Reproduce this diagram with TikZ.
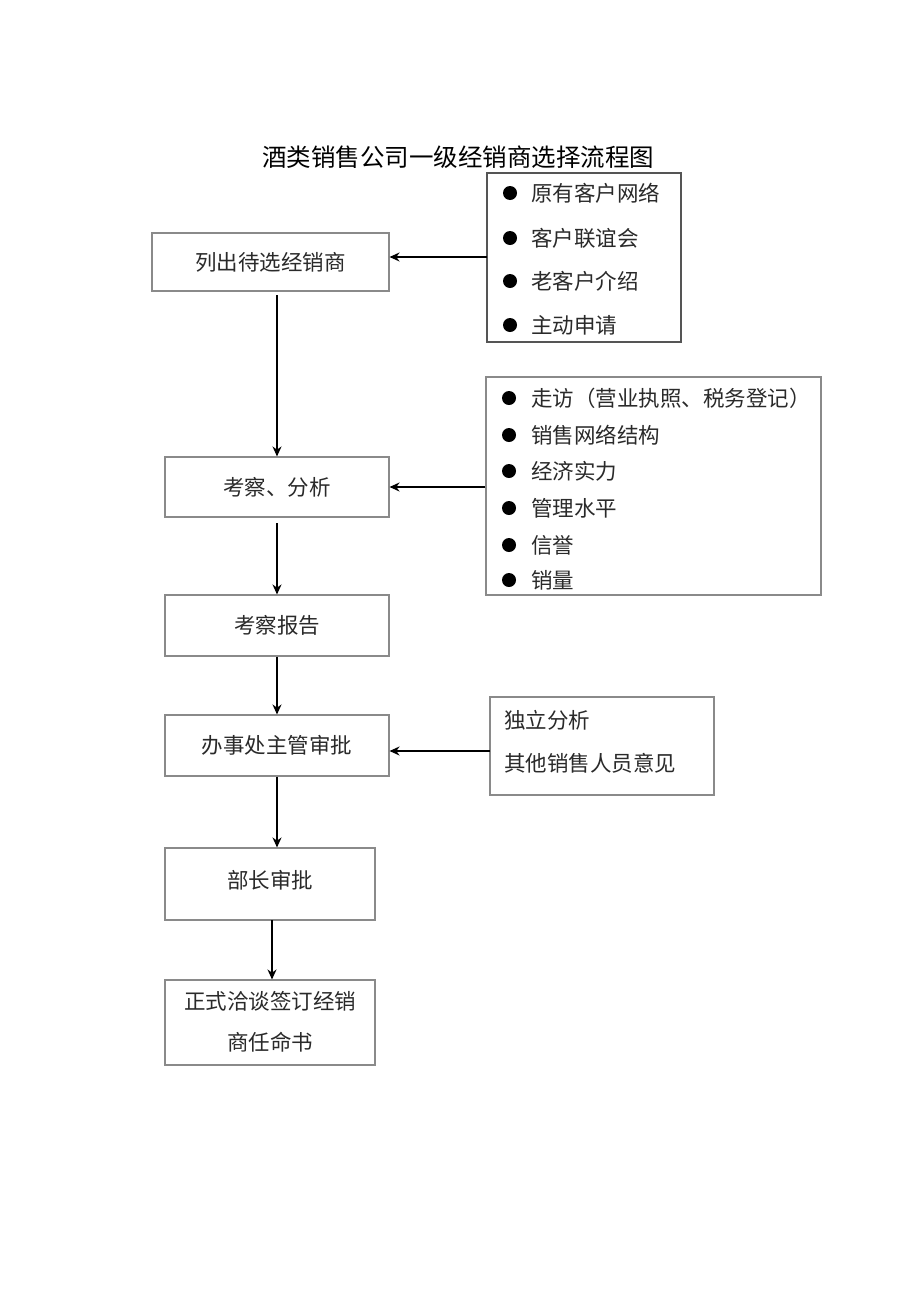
\documentclass[tikz,border=0pt]{standalone}
\usepackage{fontspec}
\newfontfamily\cjk{Noto Sans CJK SC}
\usetikzlibrary{arrows.meta}
\definecolor{txt}{HTML}{2A2A2A}
\definecolor{bord}{HTML}{8A8A8A}
\definecolor{lbord}{HTML}{555555}
\tikzset{
  box/.style={draw=bord, line width=1.1pt, inner sep=0pt, text=txt, font=\cjk\fontsize{21.5}{26}\selectfont, align=center},
  plain/.style={inner sep=0pt, text=txt, font=\cjk\fontsize{21.5}{26}\selectfont},
  lbox/.style={draw=lbord, line width=1.4pt, inner sep=0pt},
  item/.style={anchor=west, inner sep=0pt, text=txt, font=\cjk\fontsize{21.5}{24}\selectfont},
  dot/.style={circle, fill=black, inner sep=0pt, minimum size=14pt},
  arr/.style={line width=1.6pt, -{Stealth[length=10pt,width=9pt]}}
}
\begin{document}
\begin{tikzpicture}[x=1pt,y=-1pt]
\useasboundingbox[fill=white] (0,0) rectangle (920,1301);
\node[font=\cjk\fontsize{24.5}{28}\selectfont] (title) at (458,157) {酒类销售公司一级经销商选择流程图};

% main boxes
\node[box, minimum width=237pt, minimum height=58pt] (b1) at (270.5,262) {列出待选经销商};
\node[box, minimum width=224pt, minimum height=60pt] (b2) at (277,487) {考察、分析};
\node[box, minimum width=224pt, minimum height=61pt] (b3) at (277,625.5) {考察报告};
\node[box, minimum width=224pt, minimum height=61pt] (b4) at (277,745.5) {办事处主管审批};
\node[box, minimum width=210pt, minimum height=72pt] (b5) at (270,884) {};
\node[plain] (b5t) at (270,880) {部长审批};
\node[box, minimum width=210pt, minimum height=85pt] (b6) at (270,1022.5) {};
\node[plain] (b6a) at (270,1001) {正式洽谈签订经销};
\node[plain] (b6b) at (270,1042) {商任命书};

% list box 1
\node[lbox, minimum width=194pt, minimum height=169pt] (l1) at (584,257.5) {};
\node[dot] (d11) at (510,193) {};
\node[item] (t11) at (531,193) {原有客户网络};
\node[dot] (d12) at (510,238) {};
\node[item] (t12) at (531,238) {客户联谊会};
\node[dot] (d13) at (510,281) {};
\node[item] (t13) at (531,281) {老客户介绍};
\node[dot] (d14) at (510,325) {};
\node[item] (t14) at (531,325) {主动申请};

% list box 2
\node[lbox, draw=bord, minimum width=335pt, minimum height=218pt] (l2) at (653.5,486) {};
\node[dot] (d21) at (509,398) {};
\node[item] (t21) at (531,398) {走访（营业执照、税务登记）};
\node[dot] (d22) at (509,435) {};
\node[item] (t22) at (531,435) {销售网络结构};
\node[dot] (d23) at (509,471) {};
\node[item] (t23) at (531,471) {经济实力};
\node[dot] (d24) at (509,508) {};
\node[item] (t24) at (531,508) {管理水平};
\node[dot] (d25) at (509,545) {};
\node[item] (t25) at (531,545) {信誉};
\node[dot] (d26) at (509,580) {};
\node[item] (t26) at (531,580) {销量};

% list box 3
\node[lbox, draw=bord, minimum width=224pt, minimum height=98pt] (l3) at (602,746) {};
\node[item] (t31) at (504,720) {独立分析};
\node[item] (t32) at (504,763) {其他销售人员意见};

% arrows
\coordinate (a1) at (487,257);
\draw[arr] (a1) -- (a1 -| b1.east);
\draw[arr] (l2.west |- b2.east) -- (b2.east);
\coordinate (a3) at (490,751);
\draw[arr] (a3) -- (a3 -| b4.east);
\coordinate (s1) at (277,295);
\coordinate (s2) at (277,523);
\coordinate (s5) at (272,920);
\draw[arr] (s1) -- (s1 |- b2.north);
\draw[arr] (s2) -- (s2 |- b3.north);
\draw[arr] (b3.south) -- (b4.north);
\draw[arr] (b4.south) -- (b4.south |- b5.north);
\draw[arr] (s5) -- (s5 |- b6.north);
\end{tikzpicture}
\end{document}
